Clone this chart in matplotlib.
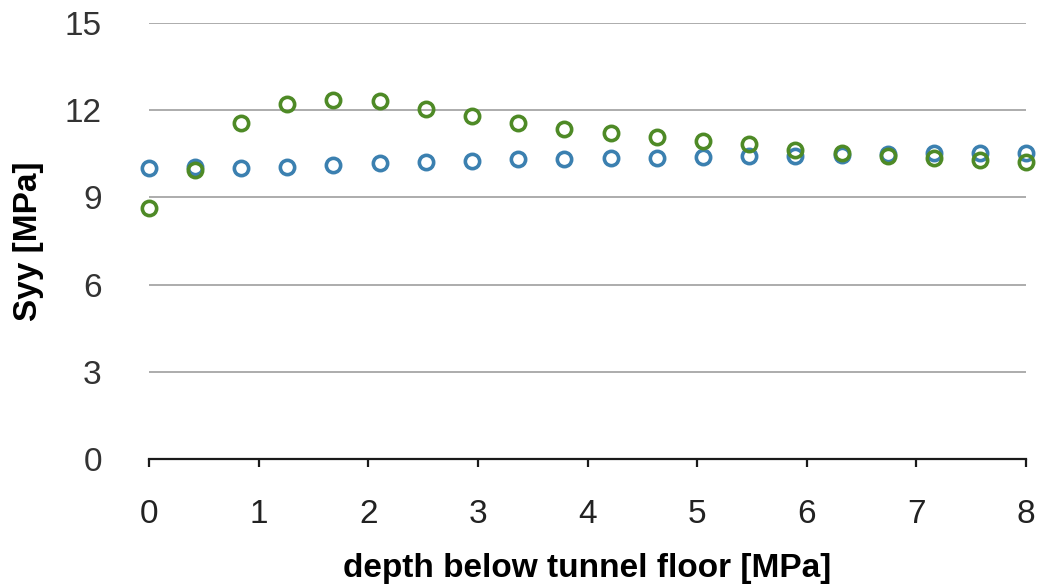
import matplotlib
matplotlib.use("Agg")
import matplotlib.pyplot as plt

plt.rcParams['font.family'] = ['Liberation Sans', 'DejaVu Sans']

# depth below tunnel floor
depth = [0.00, 0.42, 0.84, 1.26, 1.68, 2.11, 2.53, 2.95, 3.37, 3.79,
         4.21, 4.63, 5.05, 5.47, 5.89, 6.32, 6.74, 7.16, 7.58, 8.00]

# Syy, first series (blue)
syy_a = [10.00, 10.06, 10.02, 10.06, 10.11, 10.17, 10.21, 10.25, 10.31, 10.32,
         10.34, 10.37, 10.40, 10.42, 10.44, 10.47, 10.49, 10.52, 10.52, 10.53]

# Syy, second series (green)
syy_b = [8.64, 9.94, 11.55, 12.20, 12.35, 12.31, 12.04, 11.81, 11.55, 11.35,
         11.22, 11.09, 10.94, 10.83, 10.63, 10.52, 10.43, 10.34, 10.29, 10.21]

x_ticks = [0, 1, 2, 3, 4, 5, 6, 7, 8]
y_ticks = [0, 3, 6, 9, 12, 15]

fig = plt.figure(figsize=(10.38, 5.84), dpi=100)
ax = fig.add_axes([149 / 1038, 125 / 584, 877 / 1038, 436 / 584])

ax.plot(depth, syy_a, linestyle='none', marker='o', markersize=10.3,
        markerfacecolor='none', markeredgecolor='#3b80b0', markeredgewidth=2.6,
        clip_on=False, zorder=3)
ax.plot(depth, syy_b, linestyle='none', marker='o', markersize=10.3,
        markerfacecolor='none', markeredgecolor='#4e8a26', markeredgewidth=2.6,
        clip_on=False, zorder=4)

ax.set_xlim(0, 8)
ax.set_ylim(0, 15)
ax.set_xticks(x_ticks)
ax.set_yticks(y_ticks)

ax.grid(axis='y', color='#a6a6a6', linewidth=1.3)
ax.set_axisbelow(True)

for side in ['left', 'right', 'top']:
    ax.spines[side].set_visible(False)
ax.spines['bottom'].set_linewidth(1.6)
ax.spines['bottom'].set_color('#1a1a1a')

ax.tick_params(axis='x', direction='out', length=6, width=1.6, color='#1a1a1a',
               pad=22.5, labelsize=24, labelcolor='#222222')
ax.tick_params(axis='y', length=0, pad=34, labelsize=24, labelcolor='#333333')

ax.set_xlabel('depth below tunnel floor [MPa]', fontsize=24, fontweight='bold',
              labelpad=17)
ax.set_ylabel('Syy [MPa]', fontsize=24, fontweight='bold', labelpad=15)

fig.savefig('out.png', dpi=100)
